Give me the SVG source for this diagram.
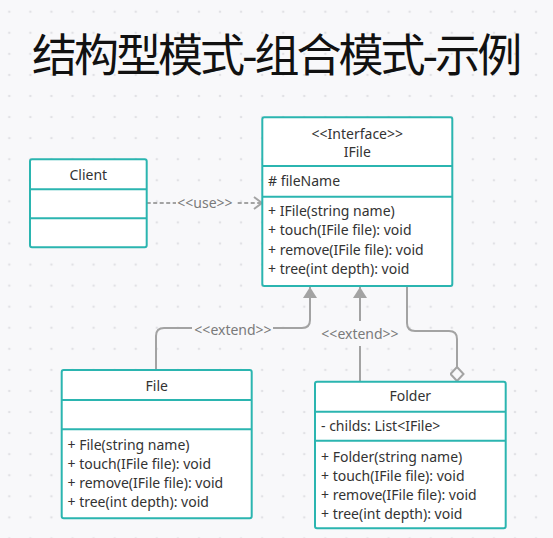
<svg xmlns="http://www.w3.org/2000/svg" width="553" height="538" viewBox="0 0 553 538">
<style>
.box{fill:#ffffff;stroke:#2bb5b0;stroke-width:2}
.div{stroke:#2bb5b0;stroke-width:2}
.t{font-family:"Noto Sans","Open Sans",sans-serif;font-size:14px;fill:#333333}
.c{text-anchor:middle}
.lbl{font-family:"Noto Sans","Open Sans",sans-serif;font-size:14px;fill:#7a7a7a;text-anchor:middle}
.ln{fill:none;stroke:#a3a3a3;stroke-width:2}
.bg{fill:#f8f8fa}
</style>
<defs>
<pattern id="dots" patternUnits="userSpaceOnUse" x="-1.235" y="1.165" width="21.07" height="21.07">
<circle cx="10.535" cy="10.535" r="1.3" fill="#e1e1e5"/>
</pattern>
<marker id="tri" markerWidth="12" markerHeight="14" viewBox="0 0 12 14" refX="11" refY="7" orient="auto" markerUnits="userSpaceOnUse">
<path d="M0,0 L11,7 L0,14 Z" fill="#a3a3a3"/>
</marker>
<marker id="open" markerWidth="12" markerHeight="14" viewBox="0 0 12 14" refX="10" refY="7" orient="auto" markerUnits="userSpaceOnUse">
<path d="M2,1 L10,7 L2,13" fill="none" stroke="#a3a3a3" stroke-width="2"/>
</marker>
<marker id="dia" markerWidth="17" markerHeight="15" viewBox="0 0 17 15" refX="15.5" refY="7.5" orient="auto" markerUnits="userSpaceOnUse">
<path d="M1.5,7.5 L8.5,1 L15.5,7.5 L8.5,14 Z" fill="#f8f8fa" stroke="#a3a3a3" stroke-width="2"/>
</marker>
</defs>
<rect width="553" height="538" fill="#f8f8fa"/>
<rect width="553" height="538" fill="url(#dots)"/>
<text x="32" y="72" font-family="'Noto Sans CJK SC','Noto Sans',sans-serif" font-size="45" fill="#111111" letter-spacing="-3">结构型模式-组合模式-示例</text>

<g id="connectors">
<path class="ln" d="M146.7,203 H262" stroke-dasharray="4,2.5" marker-end="url(#open)"/>
<rect class="bg" x="176" y="193" width="60" height="20"/>
<text class="lbl" x="205" y="207.5">&lt;&lt;use&gt;&gt;</text>

<path class="ln" d="M156,370 V336 Q156,328 164,328 H302 Q310,328 310,320 V287" marker-end="url(#tri)"/>
<rect class="bg" x="192" y="318" width="81" height="20"/>
<text class="lbl" x="233" y="334.5">&lt;&lt;extend&gt;&gt;</text>

<path class="ln" d="M360,381 V287" marker-end="url(#tri)"/>
<rect class="bg" x="320" y="321" width="80" height="25"/>
<text class="lbl" x="360" y="339">&lt;&lt;extend&gt;&gt;</text>

<path class="ln" d="M407,287 V323 Q407,331 415,331 H449 Q457,331 457,339 V381" marker-end="url(#dia)"/>
</g>

<g id="client">
<rect class="box" x="30" y="159.3" width="116.7" height="88" rx="2"/>
<line class="div" x1="30" y1="189.3" x2="146.7" y2="189.3"/>
<line class="div" x1="30" y1="218.3" x2="146.7" y2="218.3"/>
<text class="t c" x="88.3" y="179.5">Client</text>
</g>

<g id="ifile">
<rect class="box" x="262.3" y="117.3" width="190" height="168.7" rx="2"/>
<line class="div" x1="262.3" y1="166" x2="452.3" y2="166"/>
<line class="div" x1="262.3" y1="196.7" x2="452.3" y2="196.7"/>
<text class="t c" x="357.3" y="138.5">&lt;&lt;Interface&gt;&gt;</text>
<text class="t c" x="357.3" y="157.2">IFile</text>
<text class="t" x="268" y="186.2"># fileName</text>
<text class="t" x="268" y="216.2">+ IFile(string name)</text>
<text class="t" x="268" y="235.4">+ touch(IFile file): void</text>
<text class="t" x="268" y="254.6">+ remove(IFile file): void</text>
<text class="t" x="268" y="273.8">+ tree(int depth): void</text>
</g>

<g id="file">
<rect class="box" x="61.7" y="370" width="190" height="148.3" rx="2"/>
<line class="div" x1="61.7" y1="400" x2="251.7" y2="400"/>
<line class="div" x1="61.7" y1="429.3" x2="251.7" y2="429.3"/>
<text class="t c" x="156.7" y="390.5">File</text>
<text class="t" x="67.5" y="450.2">+ File(string name)</text>
<text class="t" x="67.5" y="469">+ touch(IFile file): void</text>
<text class="t" x="67.5" y="488">+ remove(IFile file): void</text>
<text class="t" x="67.5" y="507">+ tree(int depth): void</text>
</g>

<g id="folder">
<rect class="box" x="315" y="381.7" width="190.7" height="146.6" rx="2"/>
<line class="div" x1="315" y1="411.7" x2="505.7" y2="411.7"/>
<line class="div" x1="315" y1="440.7" x2="505.7" y2="440.7"/>
<text class="t c" x="410.3" y="400.5">Folder</text>
<text class="t" x="321" y="431.2">- childs: List&lt;IFile&gt;</text>
<text class="t" x="321" y="461.8">+ Folder(string name)</text>
<text class="t" x="321" y="480.7">+ touch(IFile file): void</text>
<text class="t" x="321" y="499.8">+ remove(IFile file): void</text>
<text class="t" x="321" y="518.6">+ tree(int depth): void</text>
</g>
</svg>
